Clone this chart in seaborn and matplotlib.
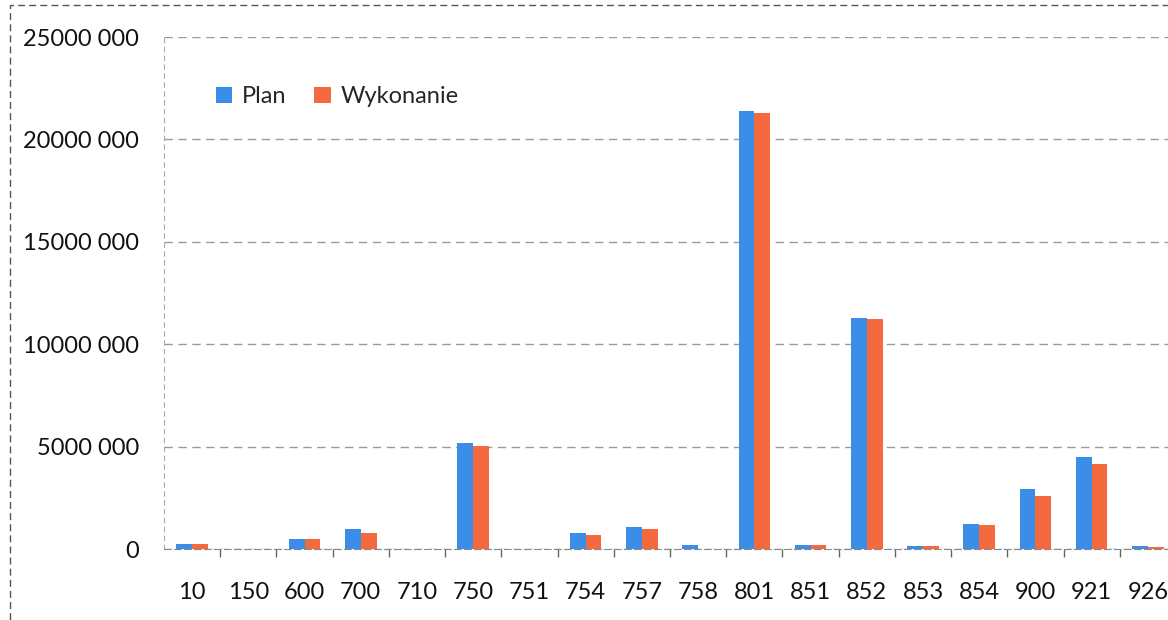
import pandas as pd
import seaborn as sns
import matplotlib.pyplot as plt
from matplotlib.patches import Rectangle
from matplotlib.ticker import FixedLocator

# dzialy budzetu
dzialy = ['10', '150', '600', '700', '710', '750', '751', '754', '757',
          '758', '801', '851', '852', '853', '854', '900', '921', '926']
plan = [230000, 15000, 500000, 1000000, 20000, 5170000, 10000, 780000, 1070000,
        200000, 21400000, 180000, 11300000, 150000, 1200000, 2930000, 4500000, 150000]
wykonanie = [230000, 10000, 500000, 800000, 15000, 5020000, 8000, 700000, 1000000,
             0, 21300000, 180000, 11250000, 150000, 1150000, 2600000, 4150000, 100000]
y_ticks = [0, 5000000, 10000000, 15000000, 20000000, 25000000]
y_labels = ['0', '5000 000', '10000 000', '15000 000', '20000 000', '25000 000']

df = pd.DataFrame({'dzial': dzialy * 2,
                   'kwota': plan + wykonanie,
                   'seria': ['Plan'] * len(dzialy) + ['Wykonanie'] * len(dzialy)})

sns.set_style('white')
plt.rcParams['font.family'] = ['Lato', 'DejaVu Sans']

fig = plt.figure(figsize=(11.68, 6.2), dpi=100)
ax = fig.add_axes([164 / 1168, 71 / 620, 1012 / 1168, 512 / 620])
sns.barplot(data=df, x='dzial', y='kwota', hue='seria',
            palette=['#3b8ee8', '#f5693f'], width=0.56, ax=ax,
            edgecolor='none', saturation=1)

ax.set_ylim(0, 25000000)
ax.set_yticks(y_ticks)
ax.set_yticklabels(y_labels, fontsize=17, color='#111111')
ax.tick_params(axis='x', which='major', labelsize=17, colors='#111111', pad=24, length=0)
ax.xaxis.set_minor_locator(FixedLocator([i + 0.5 for i in range(len(dzialy))]))
ax.tick_params(axis='x', which='minor', bottom=True, length=6, color='#666666',
               width=1, direction='out')
ax.tick_params(axis='y', length=0, pad=18)
ax.set_xlabel('')
ax.set_ylabel('')
ax.yaxis.grid(True, linestyle=(0, (6, 4)), color='#9a9a9a', linewidth=1)
ax.set_axisbelow(True)
for s in ['top', 'right']:
    ax.spines[s].set_visible(False)
ax.spines['left'].set_color('#aaaaaa')
ax.spines['left'].set_linestyle((0, (4, 4)))
ax.spines['bottom'].set_color('#888888')
ax.spines['bottom'].set_linestyle((0, (6, 3)))

leg = ax.legend(loc='upper left', bbox_to_anchor=(0.03, 0.945), ncol=2, frameon=False,
                fontsize=17, handlelength=0.7, handleheight=0.7, handletextpad=0.4,
                columnspacing=1.2)

# ramka wokol wykresu
fig.patches.append(Rectangle((10 / 1168, -0.1), 1.2, 0.1 + 615 / 620, transform=fig.transFigure,
                             fill=False, edgecolor='#555555', linewidth=1,
                             linestyle=(0, (5, 3))))

fig.savefig('out.png', dpi=100)
